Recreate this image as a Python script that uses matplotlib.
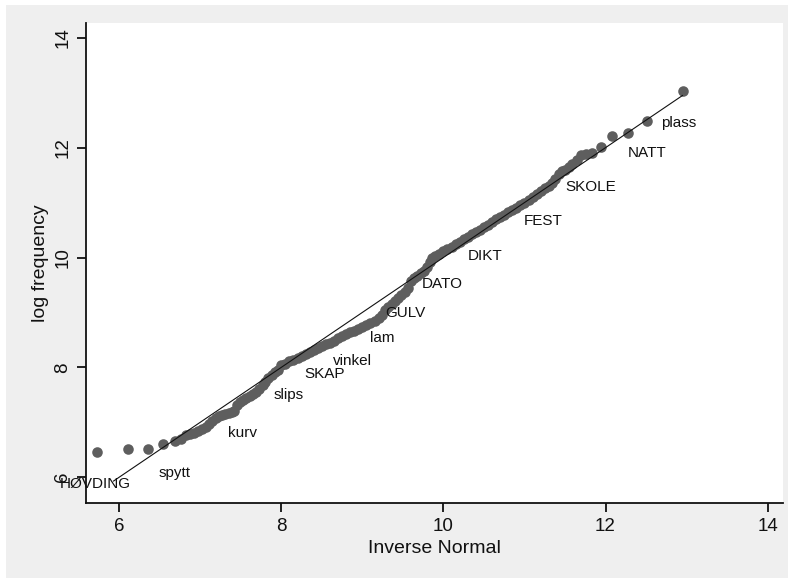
import matplotlib.pyplot as plt
from matplotlib.patches import Rectangle

plt.rcParams['font.family'] = ['Liberation Sans', 'DejaVu Sans']

inv_normal = [
    5.73, 6.11, 6.36, 6.54, 6.69,
    6.76, 6.82, 6.87, 6.92, 6.97, 7.02, 7.07, 7.11, 7.15, 7.19, 7.23, 7.27, 7.31, 7.35, 7.39, 7.42,
    7.45, 7.49, 7.53, 7.57, 7.61, 7.65, 7.69, 7.73, 7.77, 7.80, 7.84, 7.88, 7.92, 7.96,
    8.00, 8.05, 8.10, 8.15, 8.20, 8.25, 8.30, 8.35, 8.40, 8.45, 8.50, 8.55,
    8.60, 8.65, 8.70, 8.75, 8.80, 8.85, 8.90, 8.95, 9.00, 9.05, 9.10, 9.15, 9.20,
    9.24, 9.28, 9.32, 9.36, 9.40, 9.44, 9.48, 9.52, 9.56,
    9.60, 9.64, 9.68, 9.72, 9.76, 9.80, 9.83, 9.86, 9.90, 9.95, 10.00, 10.05, 10.10,
    10.15, 10.20, 10.25, 10.30, 10.35, 10.40, 10.45, 10.50, 10.55, 10.60, 10.65, 10.70,
    10.75, 10.80, 10.85, 10.90, 10.95,
    11.00, 11.05, 11.10, 11.15, 11.20, 11.25, 11.30, 11.34, 11.38, 11.42, 11.46, 11.50,
    11.55, 11.59, 11.65, 11.70, 11.76, 11.83, 11.95, 12.08, 12.28, 12.51, 12.95,
]
log_freq = [
    6.45, 6.51, 6.52, 6.60, 6.65,
    6.70, 6.76, 6.79, 6.81, 6.84, 6.88, 6.92, 6.97, 7.03, 7.08, 7.11, 7.13, 7.15, 7.16, 7.18, 7.20,
    7.31, 7.36, 7.41, 7.45, 7.48, 7.51, 7.55, 7.60, 7.68, 7.74, 7.80, 7.86, 7.92, 7.96,
    8.04, 8.07, 8.11, 8.14, 8.17, 8.20, 8.24, 8.28, 8.32, 8.35, 8.39, 8.42,
    8.44, 8.48, 8.53, 8.57, 8.61, 8.64, 8.67, 8.70, 8.73, 8.77, 8.81, 8.85, 8.89,
    8.96, 9.04, 9.10, 9.16, 9.21, 9.26, 9.32, 9.38, 9.44,
    9.57, 9.62, 9.67, 9.71, 9.75, 9.82, 9.92, 9.99, 10.03, 10.07, 10.11, 10.16, 10.20,
    10.24, 10.28, 10.33, 10.38, 10.42, 10.46, 10.50, 10.55, 10.60, 10.65, 10.70, 10.74,
    10.78, 10.83, 10.87, 10.91, 10.95,
    11.00, 11.05, 11.10, 11.15, 11.21, 11.26, 11.31, 11.36, 11.43, 11.52, 11.57, 11.60,
    11.64, 11.71, 11.78, 11.86, 11.88, 11.91, 12.02, 12.22, 12.27, 12.49, 13.04,
]

# reference line y = x spans this range
line_range = [5.93, 12.95]

# word labels and where they sit
words = ['HØVDING', 'spytt', 'kurv', 'slips', 'SKAP', 'vinkel', 'lam',
         'GULV', 'DATO', 'DIKT', 'FEST', 'SKOLE', 'NATT', 'plass']
word_x = [5.27, 6.48, 7.34, 7.90, 8.29, 8.64, 9.09,
          9.28, 9.73, 10.30, 10.99, 11.50, 12.27, 12.69]
word_y = [5.87, 6.07, 6.80, 7.49, 7.87, 8.12, 8.54,
          8.99, 9.51, 10.02, 10.66, 11.29, 11.90, 12.45]

fig = plt.figure(figsize=(7.88, 5.78), dpi=100, facecolor='white')
fig.patches.append(Rectangle((6 / 788, 0), 1, 1 - 5 / 578, transform=fig.transFigure,
                             facecolor='#efefef', edgecolor='none', zorder=-10))
ax = fig.add_axes([86 / 788, 1 - 503 / 578, (783 - 86) / 788, (503 - 23) / 578])
ax.set_facecolor('white')

ax.plot(inv_normal, log_freq, 'o', color='#5e5e5e', markersize=7.6,
        markeredgewidth=0, zorder=2)
ax.plot(line_range, line_range, color='#111111', linewidth=0.8, zorder=3)

for w, x, y in zip(words, word_x, word_y):
    ax.text(x, y, w, fontsize=11, color='#111111', ha='left', va='center',
            clip_on=False, zorder=4)

ax.set_xlim(5.59, 14.19)
ax.set_ylim(5.53, 14.27)
ax.set_xticks([6, 8, 10, 12, 14])
ax.set_yticks([6, 8, 10, 12, 14])
ax.set_xlabel('Inverse Normal', fontsize=14, color='#111111', labelpad=4)
ax.set_ylabel('log frequency', fontsize=14, color='#111111', labelpad=4)

for s in ['top', 'right']:
    ax.spines[s].set_visible(False)
for s in ['left', 'bottom']:
    ax.spines[s].set_linewidth(1.3)
    ax.spines[s].set_color('#111111')
ax.tick_params(direction='out', length=6.5, width=1.3, labelsize=13.5,
               colors='#111111')
ax.tick_params(axis='x', pad=4)
ax.tick_params(axis='y', pad=4)
for lbl in ax.get_yticklabels():
    lbl.set_rotation(90)
    lbl.set_va('center')

fig.savefig('out.png', dpi=100, facecolor=fig.get_facecolor())
